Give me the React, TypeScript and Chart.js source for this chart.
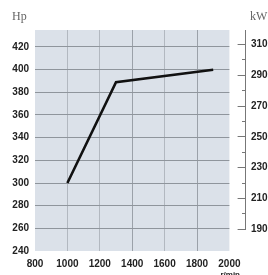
import React, { useEffect, useRef } from 'react';
import { Chart, registerables } from 'chart.js';

Chart.register(...registerables);

// ---- data ----
const rpm = [1000, 1300, 1900];
const powerHp = [300, 389, 400];
const xTicks = [800, 1000, 1200, 1400, 1600, 1800, 2000];
const hpTicks = [240, 260, 280, 300, 320, 340, 360, 380, 400, 420];
const kwTicks = [190, 200, 210, 220, 230, 240, 250, 260, 270, 280, 290, 300, 310];
const kwLabelTicks = [190, 210, 230, 250, 270, 290, 310];
const darkVerticals = [1400, 1800];
const xRange = [800, 2000];
const hpRange = [240, 435];
const kwRange = [175.9, 319.4];
const leftUnit = 'Hp';
const rightUnit = 'kW';
const xUnit = 'r/min';

const W = 268;
const H = 275;
const LEFT_W = 35;
const RIGHT_W = 38.6;
const BOTTOM_H = 24;
const TOP_PAD = 30;
const KW_TICK_LEN = 16.6;

const tickFont = { family: '"Liberation Sans", Arial, sans-serif', size: 10, weight: 'bold' as const };

const bgPlugin = {
  id: 'plotBg',
  beforeDraw(chart: any) {
    const { ctx, chartArea: a } = chart;
    ctx.save();
    ctx.fillStyle = '#dbe1e9';
    ctx.fillRect(a.left, a.top, a.right - a.left, a.bottom - a.top);
    ctx.restore();
  },
};

const decoPlugin = {
  id: 'deco',
  afterDraw(chart: any) {
    const { ctx, chartArea: a } = chart;
    const y2 = chart.scales.y2;
    ctx.save();
    // kW axis line
    const x = Math.round(y2.left + KW_TICK_LEN) - 0.5;
    ctx.strokeStyle = '#777';
    ctx.lineWidth = 1;
    ctx.beginPath();
    ctx.moveTo(x, a.top);
    ctx.lineTo(x, y2.getPixelForValue(kwLabelTicks[0]) + 0.5);
    ctx.stroke();
    // unit labels
    ctx.fillStyle = '#666';
    ctx.font = '12px "Liberation Serif", "DejaVu Serif", serif';
    ctx.textBaseline = 'middle';
    ctx.textAlign = 'left';
    ctx.fillText(leftUnit, 12, 17);
    ctx.fillText(rightUnit, 250, 17);
    ctx.fillStyle = '#222';
    ctx.font = 'bold 8px "Liberation Sans", Arial, sans-serif';
    ctx.textAlign = 'right';
    ctx.textBaseline = 'alphabetic';
    ctx.fillText(xUnit, 240, 277);
    ctx.restore();
  },
};

export default function App() {
  const ref = useRef<HTMLCanvasElement | null>(null);
  useEffect(() => {
    document.body.style.margin = '0';
    const canvas = ref.current!;
    const chart = new Chart(canvas, {
      type: 'line',
      data: {
        datasets: [
          {
            data: rpm.map((r, i) => ({ x: r, y: powerHp[i] })),
            borderColor: '#111',
            borderWidth: 2.6,
            pointRadius: 0,
            tension: 0,
            fill: false,
            yAxisID: 'y',
          },
        ],
      },
      options: {
        animation: false,
        responsive: false,
        maintainAspectRatio: false,
        devicePixelRatio: 1,
        layout: { padding: { top: TOP_PAD, left: 0, right: 0, bottom: 0 } },
        plugins: { legend: { display: false }, tooltip: { enabled: false }, title: { display: false } },
        scales: {
          x: {
            type: 'linear',
            min: xRange[0],
            max: xRange[1],
            afterFit: (s: any) => { s.height = BOTTOM_H; },
            afterBuildTicks: (s: any) => { s.ticks = xTicks.map((v) => ({ value: v })); },
            border: { display: false },
            grid: {
              drawTicks: false,
              color: (c: any) => {
                const v = c.tick?.value;
                if (v === xRange[0] || v === xRange[1]) return 'rgba(0,0,0,0)';
                return darkVerticals.includes(v) ? '#9ba1a9' : '#b2b8c0';
              },
            },
            ticks: {
              autoSkip: false,
              maxRotation: 0,
              padding: 7,
              color: '#222',
              font: tickFont,
              callback: (v: any) => String(v),
            },
          },
          y: {
            type: 'linear',
            position: 'left',
            min: hpRange[0],
            max: hpRange[1],
            afterFit: (s: any) => { s.width = LEFT_W; },
            afterBuildTicks: (s: any) => { s.ticks = hpTicks.map((v) => ({ value: v })); },
            border: { display: false },
            grid: {
              drawTicks: false,
              color: (c: any) => (c.tick?.value === hpRange[0] ? 'rgba(0,0,0,0)' : '#8f959c'),
            },
            ticks: { autoSkip: false, padding: 6, color: '#222', font: tickFont, callback: (v: any) => String(v) },
          },
          y2: {
            type: 'linear',
            position: 'right',
            min: kwRange[0],
            max: kwRange[1],
            afterFit: (s: any) => { s.width = RIGHT_W; },
            afterBuildTicks: (s: any) => { s.ticks = kwTicks.map((v) => ({ value: v })); },
            border: { display: false },
            grid: {
              drawOnChartArea: false,
              drawTicks: true,
              tickLength: KW_TICK_LEN,
              tickColor: '#777',
              tickWidth: 1,
              tickBorderDash: (c: any) =>
                kwLabelTicks.includes(c.tick?.value) ? [0, 8.6, 9, 100] : [0, 13, 4.6, 100],
            },
            ticks: {
              autoSkip: false,
              padding: 5,
              color: '#222',
              font: tickFont,
              callback: (v: any) => (kwLabelTicks.includes(Number(v)) ? String(v) : ''),
            },
          },
        },
      },
      plugins: [bgPlugin, decoPlugin],
    });
    return () => chart.destroy();
  }, []);
  return <canvas ref={ref} width={W} height={H} style={{ display: 'block', width: W, height: H }} />;
}
